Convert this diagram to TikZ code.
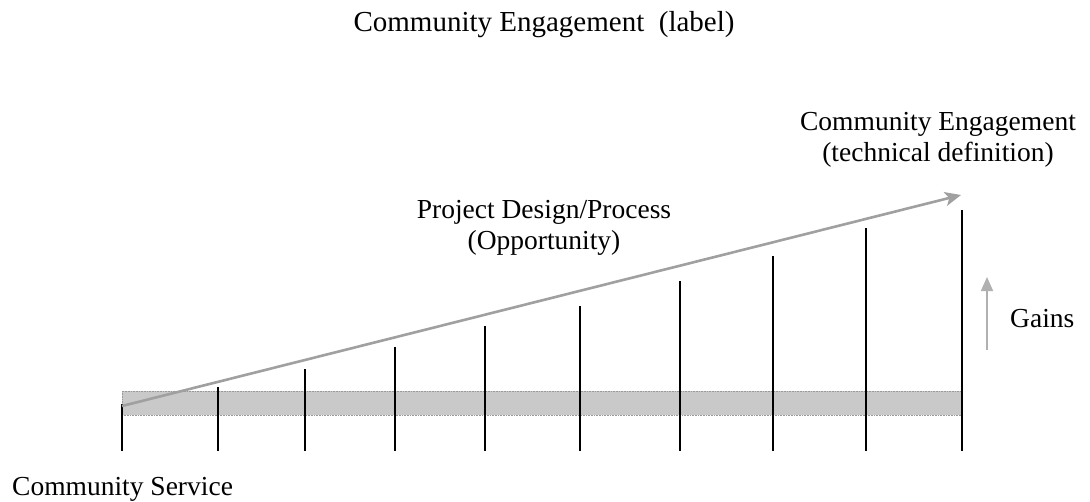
\documentclass[tikz,border=0pt]{standalone}
\usepackage{fontspec}
\setmainfont{Liberation Serif}
\usetikzlibrary{arrows.meta}
\definecolor{barfill}{HTML}{C9C9C9}
\definecolor{arrowgray}{HTML}{A0A0A0}
\definecolor{gaingray}{HTML}{B0B0B0}
\tikzset{
  lbl/.style={inner sep=0pt, font=\fontsize{27.5}{31}\selectfont, align=center},
  toplbl/.style={lbl, font=\fontsize{29}{33}\selectfont},
  tick/.style={line width=1.5pt, black},
  bar/.style={fill=barfill, draw=gray!80, line width=0.6pt, densely dotted},
  mainarrow/.style={draw=arrowgray, line width=2.6pt, -{Stealth[length=16pt,width=14pt,inset=4pt]}},
  gainarrow/.style={draw=gaingray, line width=1.6pt, -{Triangle[length=14pt,width=12pt]}}
}
\begin{document}
\begin{tikzpicture}[x=1pt,y=-1pt]
\useasboundingbox (0,0) rectangle (1090,501);
% bar
\path[bar] (122,391) rectangle (962,415);
% ticks
\foreach \i/\x/\t in {1/122/404,2/218/387,3/305/369,4/395/347,5/485/326,6/580/306,7/680/281,8/773/256,9/866/228,10/962/210}{
  \coordinate (t\i) at (\x,\t);
  \coordinate (b\i) at (\x,451);
  \draw[tick] (t\i) -- (b\i);
}
% main arrow
\coordinate (as) at (122,406);
\coordinate (ae) at (961,195);
\draw[mainarrow] (as) -- (ae);
% gains arrow
\coordinate (gs) at (987,350);
\coordinate (ge) at (987,277);
\draw[gainarrow] (gs) -- (ge);
% labels
\node[toplbl, anchor=base] (top) at (544,31) {Community Engagement\ \ (label)};
\node[lbl, anchor=base] (tech1) at (938,130) {Community Engagement};
\node[lbl, anchor=base] (tech2) at (938,161) {(technical definition)};
\node[lbl, anchor=base] (proj1) at (544,218) {Project Design/Process};
\node[lbl, anchor=base] (proj2) at (544,249) {(Opportunity)};
\node[lbl, anchor=base west] (gains) at (1010,327) {Gains};
\node[lbl, anchor=base west] (serv) at (12,495) {Community Service};
\end{tikzpicture}
\end{document}
